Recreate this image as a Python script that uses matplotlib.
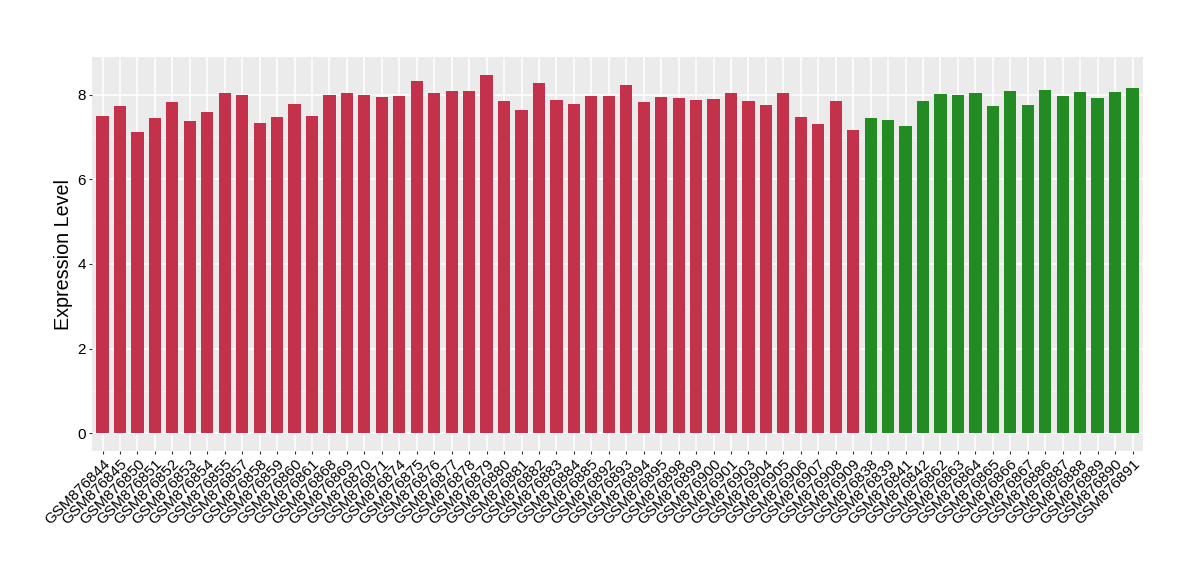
import matplotlib
matplotlib.use("Agg")
import matplotlib.pyplot as plt
from matplotlib.ticker import MultipleLocator

plt.rcParams['font.family'] = ['Liberation Sans', 'DejaVu Sans']

red_samples = ["GSM876844", "GSM876845", "GSM876850", "GSM876851", "GSM876852", "GSM876853",
               "GSM876854", "GSM876855", "GSM876857", "GSM876858", "GSM876859", "GSM876860",
               "GSM876861", "GSM876868", "GSM876869", "GSM876870", "GSM876871", "GSM876874",
               "GSM876875", "GSM876876", "GSM876877", "GSM876878", "GSM876879", "GSM876880",
               "GSM876881", "GSM876882", "GSM876883", "GSM876884", "GSM876885", "GSM876892",
               "GSM876893", "GSM876894", "GSM876895", "GSM876898", "GSM876899", "GSM876900",
               "GSM876901", "GSM876903", "GSM876904", "GSM876905", "GSM876906", "GSM876907",
               "GSM876908", "GSM876909"]
red_values = [7.50, 7.74, 7.12, 7.46, 7.83, 7.38, 7.60, 8.05, 8.00, 7.34, 7.48, 7.79,
              7.50, 8.00, 8.05, 8.00, 7.95, 7.98, 8.33, 8.05, 8.09, 8.09, 8.47, 7.86,
              7.65, 8.28, 7.88, 7.79, 7.98, 7.98, 8.24, 7.83, 7.95, 7.93, 7.88, 7.91,
              8.05, 7.86, 7.76, 8.05, 7.48, 7.31, 7.86, 7.17]

green_samples = ["GSM876838", "GSM876839", "GSM876841", "GSM876842", "GSM876862", "GSM876863",
                 "GSM876864", "GSM876865", "GSM876866", "GSM876867", "GSM876886", "GSM876887",
                 "GSM876888", "GSM876889", "GSM876890", "GSM876891"]
green_values = [7.46, 7.41, 7.27, 7.86, 8.02, 8.00, 8.05, 7.74, 8.09, 7.76, 8.12, 7.98,
                8.07, 7.93, 8.07, 8.17]

red_color = "#C3314A"
green_color = "#228B22"

samples = red_samples + green_samples
values = red_values + green_values
colors = [red_color] * len(red_samples) + [green_color] * len(green_samples)

fig = plt.figure(figsize=(12, 5.8), dpi=100)
ax = fig.add_axes([0.0767, 0.2224, 0.8758, 0.6793])
ax.set_facecolor("#EBEBEB")
ax.set_axisbelow(True)

x = list(range(len(samples)))
ax.bar(x, values, width=0.7, color=colors, zorder=3)

ax.set_xlim(-0.6, len(samples) - 1 + 0.6)
ymax = max(values)
ax.set_ylim(-0.05 * ymax, ymax * 1.05)
ax.yaxis.set_major_locator(MultipleLocator(2))
ax.yaxis.set_minor_locator(MultipleLocator(1))
ax.set_xticks(x)
ax.set_xticklabels(samples, rotation=45, ha='right', va='top', rotation_mode='anchor',
                   fontsize=11, color='black')
ax.tick_params(axis='y', labelsize=11, labelcolor='black', color='#333333', length=2.5, pad=2)
ax.tick_params(axis='x', color='#333333', length=2.5, pad=2)
ax.tick_params(axis='y', which='minor', length=0)

ax.grid(which='major', color='white', linewidth=1.1, zorder=0)
ax.grid(which='minor', axis='y', color='#F5F5F5', linewidth=0.6, zorder=0)
for s in ax.spines.values():
    s.set_visible(False)

ax.set_ylabel("Expression Level", fontsize=14.2, color='black', labelpad=3)

fig.savefig("out.png", dpi=100)
